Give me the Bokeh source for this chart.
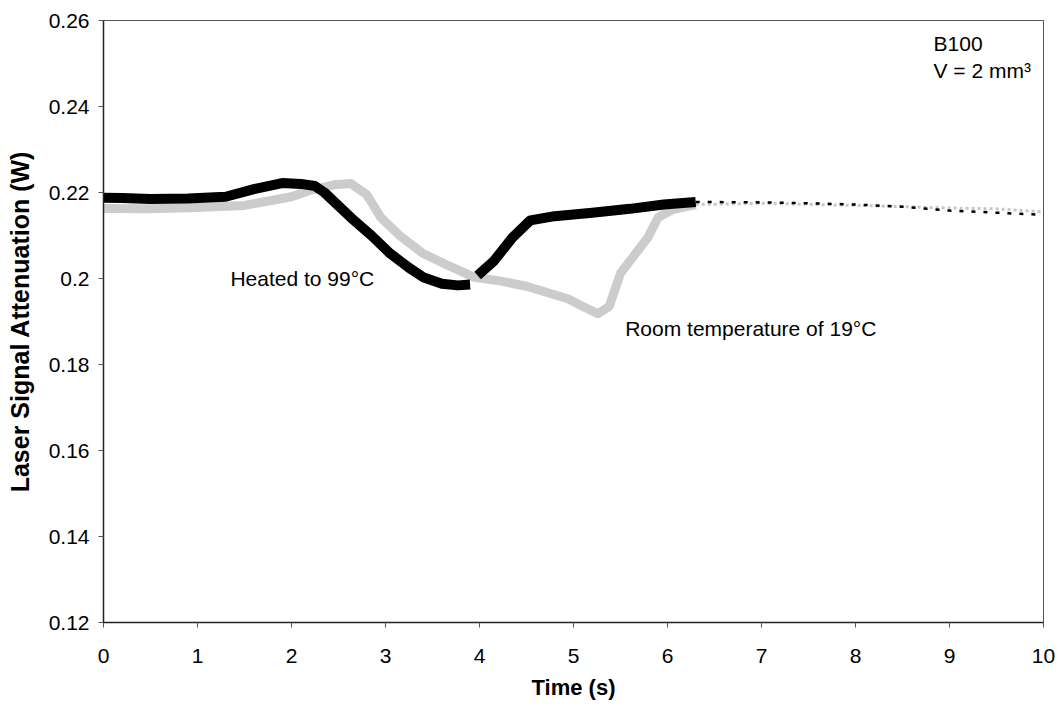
from bokeh.plotting import figure
from bokeh.models import Label, FixedTicker, Range1d
from bokeh.embed import file_html
from bokeh.resources import INLINE

# Heated to 99 C (black), main segment before and after the break at t~4 s
heated_t1 = [0.0, 0.2, 0.5, 0.9, 1.3, 1.6, 1.9, 2.1, 2.25, 2.35, 2.63, 2.85, 3.05, 3.25, 3.4, 3.6, 3.77, 3.9]
heated_w1 = [0.2188, 0.2187, 0.2185, 0.2186, 0.2190, 0.2208, 0.2222, 0.2220, 0.2215, 0.2200, 0.2142, 0.2100, 0.2058, 0.2025, 0.2003, 0.1988, 0.1984, 0.1986]
heated_t2 = [3.98, 4.15, 4.35, 4.54, 4.8, 5.2, 5.6, 5.96, 6.3]
heated_w2 = [0.2007, 0.2040, 0.2095, 0.2135, 0.2145, 0.2153, 0.2162, 0.2172, 0.2178]
heated_t3 = [6.3, 7.0, 7.5, 8.0, 8.5, 9.0, 9.5, 10.0]
heated_w3 = [0.2178, 0.2177, 0.2175, 0.2172, 0.2167, 0.2158, 0.2153, 0.2148]

# Room temperature of 19 C (grey)
room_t = [0.0, 0.5, 1.0, 1.5, 1.8, 2.0, 2.2, 2.45, 2.63, 2.8, 2.95, 3.15, 3.4, 3.65, 3.94, 4.2, 4.5, 4.94, 5.1, 5.26, 5.38, 5.5, 5.65, 5.79, 5.9, 6.05, 6.3]
room_w = [0.2163, 0.2162, 0.2165, 0.2170, 0.2182, 0.2190, 0.2205, 0.2218, 0.2221, 0.2195, 0.2142, 0.2100, 0.2058, 0.2032, 0.2003, 0.1995, 0.1982, 0.1953, 0.1935, 0.1918, 0.1935, 0.2012, 0.2055, 0.2095, 0.2142, 0.2160, 0.2172]
room_t2 = [6.3, 7.0, 8.0, 9.0, 9.5, 10.0]
room_w2 = [0.2172, 0.2175, 0.2170, 0.2164, 0.2162, 0.2155]

x_ticks = [0, 1, 2, 3, 4, 5, 6, 7, 8, 9, 10]
y_ticks = [0.12, 0.14, 0.16, 0.18, 0.20, 0.22, 0.24, 0.26]
y_tick_labels = ["0.12", "0.14", "0.16", "0.18", "0.2", "0.22", "0.24", "0.26"]

FONT = "Liberation Sans"

p = figure(width=1061, height=710, output_backend="svg", toolbar_location=None,
           x_range=Range1d(0, 10), y_range=Range1d(0.12, 0.26),
           min_border_left=103, min_border_right=18, min_border_top=20, min_border_bottom=88)
p.background_fill_color = "white"
p.border_fill_color = "white"
p.outline_line_color = "#555555"
p.outline_line_width = 1
p.xgrid.visible = False
p.ygrid.visible = False

p.line(room_t, room_w, line_color="#cccccc", line_width=9, line_join="round")
p.line(room_t2, room_w2, line_color="#c8c8c8", line_width=3, line_dash="3 3")
p.line(heated_t1, heated_w1, line_color="black", line_width=10, line_join="round")
p.line(heated_t2, heated_w2, line_color="black", line_width=10, line_join="round")
p.line(heated_t3, heated_w3, line_color="black", line_width=2.5, line_dash="4 8")

for ax in (p.xaxis[0], p.yaxis[0]):
    ax.axis_line_color = "#222222"
    ax.axis_line_width = 1.5
    ax.major_tick_out = 5
    ax.major_tick_in = 0
    ax.minor_tick_out = 0
    ax.minor_tick_in = 0
    ax.major_tick_line_color = "#555555"
    ax.major_label_text_font = FONT
    ax.major_label_text_font_size = "21px"
    ax.major_label_text_color = "black"
    ax.axis_label_text_font = FONT
    ax.axis_label_text_font_style = "bold"
    ax.axis_label_text_color = "black"

p.xaxis[0].ticker = FixedTicker(ticks=x_ticks)
p.xaxis[0].major_label_standoff = 21
p.xaxis[0].axis_label = "Time (s)"
p.xaxis[0].axis_label_text_font_size = "22px"
p.xaxis[0].axis_label_standoff = 9

p.yaxis[0].ticker = FixedTicker(ticks=y_ticks)
p.yaxis[0].major_label_overrides = {t: s for t, s in zip(y_ticks, y_tick_labels)}
p.yaxis[0].major_label_standoff = 9
p.yaxis[0].axis_label = "Laser Signal Attenuation (W)"
p.yaxis[0].axis_label_text_font_size = "25px"
p.yaxis[0].axis_label_standoff = 12

def add_label(x, y, text):
    p.add_layout(Label(x=x, y=y, text=text, text_font=FONT, text_font_size="21px",
                       text_color="black", text_baseline="alphabetic", text_align="left"))

add_label(1.35, 0.2000, "Heated to 99°C")
add_label(5.55, 0.1884, "Room temperature of 19°C")
add_label(8.83, 0.2547, "B100")
add_label(8.83, 0.2484, "V = 2 mm³")

open("out.html", "w").write(file_html(p, INLINE))
